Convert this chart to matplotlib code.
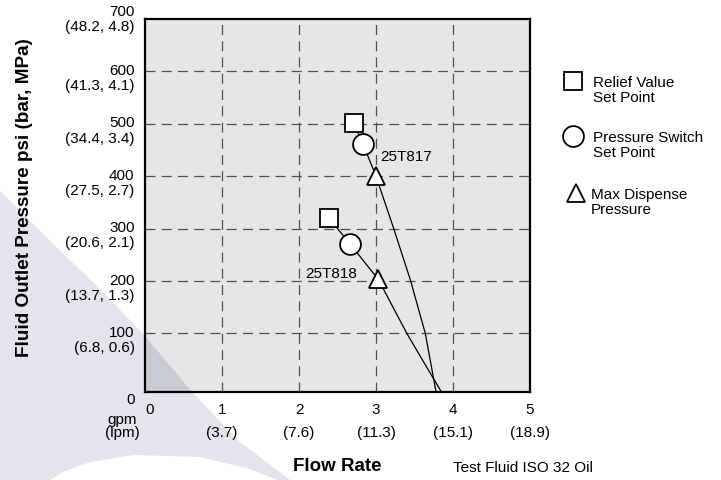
import matplotlib
matplotlib.use('Agg')
import matplotlib.pyplot as plt
from matplotlib.lines import Line2D
from matplotlib.patches import Polygon

plt.rcParams['font.family'] = ['Liberation Sans', 'DejaVu Sans']

# Datos
flow_ticks = [0, 1, 2, 3, 4, 5]
flow_lpm = ['', '(3.7)', '(7.6)', '(11.3)', '(15.1)', '(18.9)']
psi_ticks = [100, 200, 300, 400, 500, 600, 700]
psi_metric = ['(6.8, 0.6)', '(13.7, 1.3)', '(20.6, 2.1)', '(27.5, 2.7)',
              '(34.4, 3.4)', '(41.3, 4.1)', '(48.2, 4.8)']

# 25T817: punto de alivio, presostato, presion maxima y curva
t817_relief = (2.71, 502)
t817_switch = (2.83, 462)
t817_max = (3.0, 400)
t817_curve_x = [2.71, 2.83, 3.0, 3.23, 3.45, 3.64, 3.78]
t817_curve_y = [502, 462, 400, 300, 200, 100, -12]

# 25T818
t818_relief = (2.39, 320)
t818_switch = (2.66, 271)
t818_max = (3.03, 203)
t818_curve_x = [2.39, 2.66, 3.03, 3.40, 3.62, 3.85]
t818_curve_y = [320, 271, 203, 100, 45, -12]

legend_labels = ['Relief Value\nSet Point', 'Pressure Switch\nSet Point',
                 'Max Dispense\nPressure']

W, H = 721, 481
fig = plt.figure(figsize=(W / 100, H / 100), dpi=100)

def fx(px):
    return px / W

def fy(py):
    return 1 - py / H

ax = fig.add_axes([fx(145), fy(393), fx(530) - fx(145), fy(20) - fy(393)])
ax.set_facecolor('#e6e6e7')
ax.set_xlim(0, 5)
ax.set_ylim(-12, 700)

# Marca de agua (forma decorativa de fondo)
wm = [(0, 192), (50, 242), (100, 290), (145, 337), (192, 393), (240, 443),
      (290, 481), (277, 481), (250, 470), (200, 458), (133, 456), (90, 463),
      (65, 472), (50, 481), (0, 481)]
wm_fig = [(fx(x), fy(y)) for x, y in wm]
fig.patches.append(Polygon(wm_fig, closed=True, transform=fig.transFigure,
                           facecolor='#e3e4ec', edgecolor='none', zorder=-5))
ax.add_patch(Polygon(wm_fig, closed=True, transform=fig.transFigure,
                     facecolor='#c9cbd4', edgecolor='none', zorder=0))

# Rejilla discontinua
for x in flow_ticks[1:-1]:
    ax.axvline(x, color='#505050', lw=0.9, dashes=(8, 5), zorder=1)
for y in psi_ticks[:-1]:
    ax.axhline(y, color='#505050', lw=0.9, dashes=(8, 5), zorder=1)

ax.set_xticks([])
ax.set_yticks([])
for s in ax.spines.values():
    s.set_linewidth(1.6)
    s.set_color('black')
    s.set_zorder(5)

# Curvas
ax.plot(t817_curve_x, t817_curve_y, color='black', lw=0.9, zorder=2)
ax.plot(t818_curve_x, t818_curve_y, color='black', lw=0.9, zorder=2)

mk = dict(color='white', markeredgecolor='black', markeredgewidth=1.3,
          linestyle='none', zorder=3)
for p in (t817_relief, t818_relief):
    ax.plot(*p, marker='s', markersize=13, **mk)
for p in (t817_switch, t818_switch):
    ax.plot(*p, marker='o', markersize=15, **mk)
for p in (t817_max, t818_max):
    ax.plot(*p, marker='^', markersize=13, **mk)

ax.text(3.05, 439, '25T817', fontsize=11, va='center', ha='left', zorder=4)
ax.text(2.08, 216, '25T818', fontsize=11, va='center', ha='left', zorder=4)

# Etiquetas del eje y (psi y bar/MPa)
ytr = ax.get_yaxis_transform()
for v, m in zip(psi_ticks, psi_metric):
    up = 5 if v == 700 else 0
    ax.annotate(str(v), xy=(0, v), xycoords=ytr, xytext=(-7.5, 1 + up),
                textcoords='offset points', ha='right', va='center', fontsize=11)
    ax.annotate(m, xy=(0, v), xycoords=ytr, xytext=(-7.5, -10 + up),
                textcoords='offset points', ha='right', va='center', fontsize=11)
fig.text(fx(135), fy(400), '0', ha='right', va='center', fontsize=11)
fig.text(fx(122), fy(420), 'gpm', ha='center', va='center', fontsize=11)
fig.text(fx(122), fy(433), '(lpm)', ha='center', va='center', fontsize=11)

# Etiquetas del eje x (gpm y lpm)
xtr = ax.get_xaxis_transform()
for v, m in zip(flow_ticks, flow_lpm):
    dx = 3 if v == 0 else 0
    ax.annotate(str(v), xy=(v, 0), xycoords=xtr, xytext=(dx, -12.5),
                textcoords='offset points', ha='center', va='center', fontsize=11)
    if m:
        ax.annotate(m, xy=(v, 0), xycoords=xtr, xytext=(0, -29),
                    textcoords='offset points', ha='center', va='center', fontsize=11)

fig.text(fx(337), fy(467), 'Flow Rate', ha='center', va='center',
         fontsize=13.5, fontweight='bold')
fig.text(fx(453), fy(468), 'Test Fluid ISO 32 Oil', ha='left', va='center',
         fontsize=11)
fig.text(fx(25), fy(198), 'Fluid Outlet Pressure psi (bar, MPa)', rotation=90,
         ha='center', va='center', fontsize=13.6, fontweight='bold')

# Leyenda manual
leg_markers = [('s', 13, 573, 82), ('o', 15, 573, 137), ('^', 13, 576, 194)]
leg_text_x = [593, 593, 591]
for (m, ms, px, py), lab, tx in zip(leg_markers, legend_labels, leg_text_x):
    fig.add_artist(Line2D([fx(px)], [fy(py)], transform=fig.transFigure,
                          marker=m, markersize=ms, color='white',
                          markeredgecolor='black', markeredgewidth=1.3))
    fig.text(fx(tx), fy(py + 8.5), lab, ha='left', va='center', fontsize=11,
             linespacing=1.15)

fig.savefig('out.png', dpi=100)
